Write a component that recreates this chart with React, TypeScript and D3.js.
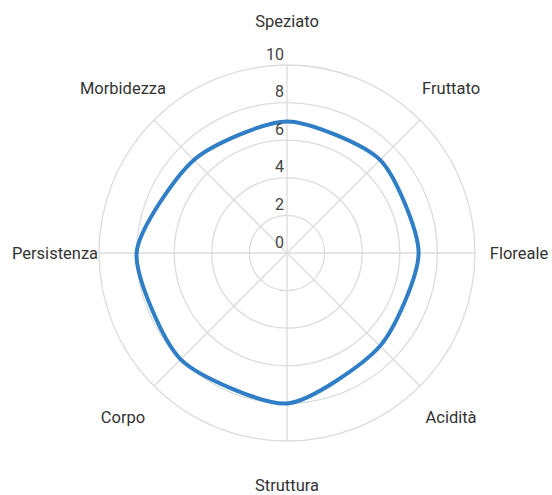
import { useEffect, useRef } from "react";
import * as d3 from "d3";

// radar axes, clockwise from the top
const categories = ["Speziato", "Fruttato", "Floreale", "Acidità", "Struttura", "Corpo", "Persistenza", "Morbidezza"];
const values = [7, 7, 7, 7, 8, 8, 8, 7];
const ticks = [0, 2, 4, 6, 8, 10];

const width = 552;
const height = 495;
const cx = 287;
const cy = 253;
const radius = 188;

function Radar() {
  const ref = useRef<SVGSVGElement>(null);

  useEffect(() => {
    const svg = d3.select(ref.current);
    svg.selectAll("*").remove();

    const r = d3.scaleLinear().domain([0, 10]).range([0, radius]);
    const angle = d3.scaleLinear().domain([0, categories.length]).range([0, 2 * Math.PI]);

    const g = svg.append("g").attr("transform", `translate(${cx},${cy})`);

    // circular grid
    g.selectAll("circle.grid")
      .data(ticks.slice(1))
      .join("circle")
      .attr("class", "grid")
      .attr("r", d => r(d))
      .attr("fill", "none")
      .attr("stroke", "#dcdcdc")
      .attr("stroke-width", 1.3);

    // spokes
    g.selectAll("line.spoke")
      .data(categories)
      .join("line")
      .attr("class", "spoke")
      .attr("x1", 0)
      .attr("y1", 0)
      .attr("x2", (_, i) => Math.sin(angle(i)) * r(10))
      .attr("y2", (_, i) => -Math.cos(angle(i)) * r(10))
      .attr("stroke", "#dcdcdc")
      .attr("stroke-width", 1.3);

    // data line
    const line = d3.lineRadial<number>()
      .angle((_, i) => angle(i))
      .radius(d => r(d))
      .curve(d3.curveCardinalClosed.tension(0.3));

    g.append("path")
      .datum(values)
      .attr("d", line)
      .attr("fill", "none")
      .attr("stroke", "#2f7ec6")
      .attr("stroke-width", 4);

    // tick labels
    g.selectAll("text.tick")
      .data(ticks)
      .join("text")
      .attr("class", "tick")
      .attr("x", -3)
      .attr("y", d => -r(d) - 11)
      .attr("text-anchor", "end")
      .attr("dominant-baseline", "central")
      .attr("font-family", "Roboto, sans-serif")
      .attr("font-size", 16)
      .attr("fill", "#444")
      .text(d => d);

    // point labels
    g.selectAll("text.label")
      .data(categories)
      .join("text")
      .attr("class", "label")
      .attr("x", (_, i) => Math.sin(angle(i)) * 232)
      .attr("y", (_, i) => -Math.cos(angle(i)) * 232)
      .attr("text-anchor", "middle")
      .attr("dominant-baseline", "central")
      .attr("font-family", "Roboto, sans-serif")
      .attr("font-size", 16.5)
      .attr("fill", "#333")
      .text(d => d);
  }, []);

  return (
    <svg
      ref={ref}
      width={width}
      height={height}
      style={{ position: "absolute", left: 0, top: 0, display: "block" }}
    ></svg>
  );
}

export default function App() {
  return <Radar />;
}
